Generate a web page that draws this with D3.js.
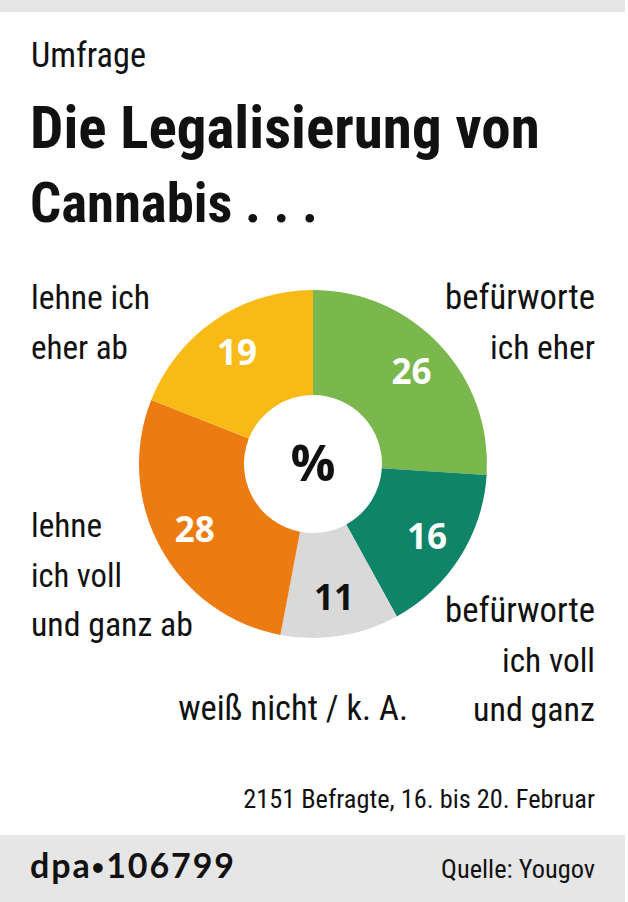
<!DOCTYPE html>
<html><head><meta charset="utf-8">
<script src="https://cdn.jsdelivr.net/npm/d3@7"></script>
<style>
html,body{margin:0;padding:0;background:#fff;}
text{font-family:"Liberation Sans Narrow","Roboto Condensed","DejaVu Sans Condensed",sans-serif;}
</style></head><body>
<svg id="chart" width="628" height="902"></svg>
<script>
const categories = ["befürworte ich eher","befürworte ich voll und ganz","weiß nicht / k. A.","lehne ich voll und ganz ab","lehne ich eher ab"];
const values = [26,16,11,28,19];
const colors = ["#7ab74d","#0f8468","#d9d9d9","#ec7c12","#f8ba17"];
const labelColors = ["#fff","#fff","#111","#fff","#fff"];

const svg = d3.select("#chart");
svg.append("rect").attr("x",0).attr("y",0).attr("width",625).attr("height",12).attr("fill","#e6e6e6");
svg.append("rect").attr("x",0).attr("y",835).attr("width",625).attr("height",67).attr("fill","#e6e6e6");

function txt(s,x,y,size,weight,anchor,len,fam){
  const t = svg.append("text").attr("x",x).attr("y",y).attr("font-size",size)
    .attr("font-weight",weight).attr("text-anchor",anchor).attr("fill","#111").text(s);
  if(fam){t.style("font-family",fam);}
  if(len){
    const w = t.node().getComputedTextLength();
    if(w > len){ t.attr("font-size", size*len/w); }
    else { t.attr("textLength",len).attr("lengthAdjust","spacingAndGlyphs"); }
  }
  return t;
}
txt("Umfrage",31,67,37,"normal","start",115);
txt("Die Legalisierung von",30,148,62,"bold","start",510);
txt("Cannabis . . .",30,222,62,"bold","start",288);

const cx=313, cy=464, rOut=174, rIn=69, rLab=135;
const pie = d3.pie().sort(null).value(d=>d)(values);
const arc = d3.arc().innerRadius(rIn).outerRadius(rOut);
const labArc = d3.arc().innerRadius(rLab).outerRadius(rLab);
const g = svg.append("g").attr("transform",`translate(${cx},${cy})`);
g.selectAll("path").data(pie).join("path").attr("d",arc).attr("fill",(d,i)=>colors[i]);
g.selectAll("text.v").data(pie).join("text").attr("class","v")
  .attr("transform",d=>`translate(${labArc.centroid(d)})`)
  .attr("text-anchor","middle").attr("dy","0.36em")
  .attr("font-size",35).attr("font-weight","bold")
  .style("font-family","'Open Sans',sans-serif")
  .attr("fill",(d,i)=>labelColors[i]).text(d=>d.data);
g.append("text").attr("text-anchor","middle").attr("y",17).attr("font-size",50)
  .attr("font-weight","bold").style("font-family","'Open Sans',sans-serif").attr("fill","#111").text("%");

// category labels
const labelLines = [
  {lines:["befürworte","ich eher"], x:595, y:309, anchor:"end", lens:[150,105]},
  {lines:["befürworte","ich voll","und ganz"], x:595, y:622, anchor:"end", lens:[150,93,122]},
  {lines:["weiß nicht / k. A."], x:408, y:720, anchor:"end", lens:[230]},
  {lines:["lehne","ich voll","und ganz ab"], x:31, y:537, anchor:"start", lens:[71,91,162]},
  {lines:["lehne ich","eher ab"], x:31, y:309, anchor:"start", lens:[119,97]}
];
labelLines.forEach(l=>{
  l.lines.forEach((s,j)=>txt(s,l.x,l.y+j*49.5,36,"normal",l.anchor,l.lens[j]));
});

txt("2151 Befragte, 16. bis 20. Februar",595,808,30,"normal","end",352);
txt("Quelle: Yougov",595,878,30,"normal","end",154);
const dpa = svg.append("text").attr("x",30).attr("y",878).attr("font-size",34).attr("font-weight","bold")
  .attr("fill","#111").style("font-family","'Lato','DejaVu Sans',sans-serif");
dpa.append("tspan").text("dpa");
dpa.append("tspan").attr("font-size",22).attr("dy",-3).text("•");
dpa.append("tspan").attr("dy",3).text("106799");
const dw = dpa.node().getComputedTextLength();
if (dw < 204) dpa.attr("textLength",204).attr("lengthAdjust","spacing");
</script></body></html>
